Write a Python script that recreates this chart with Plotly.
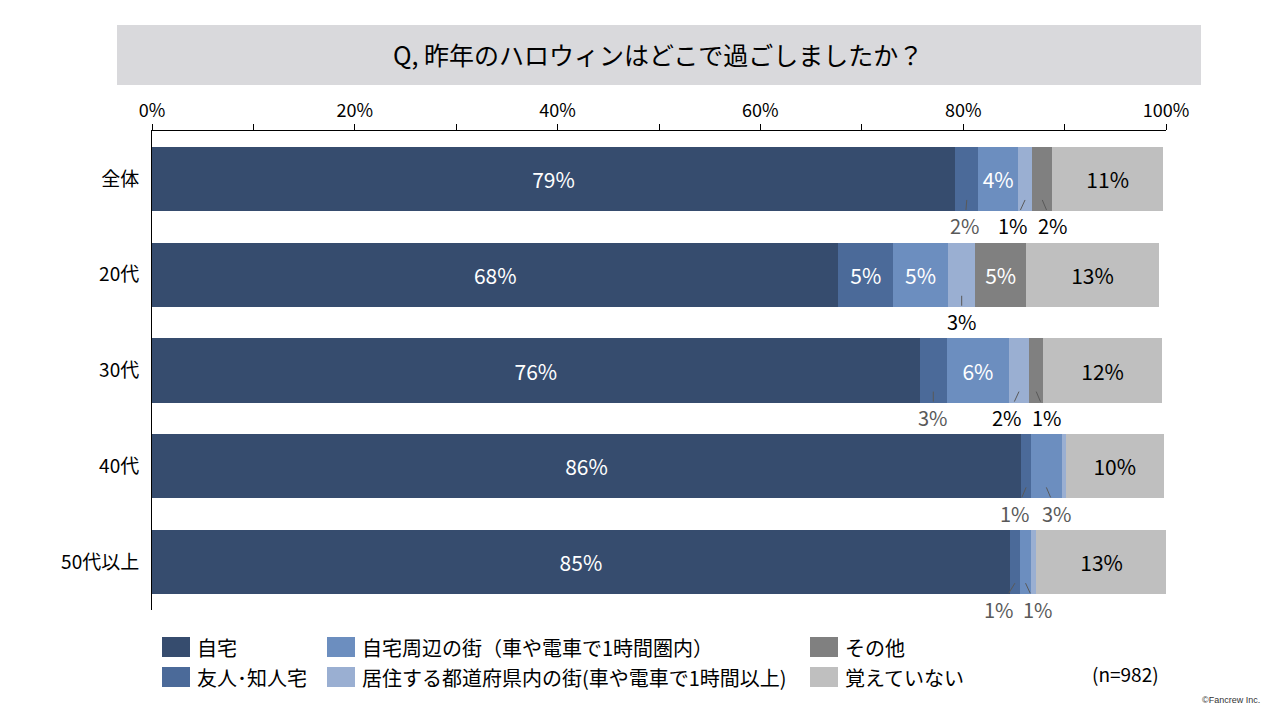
import plotly.graph_objects as go

# ---------------- data ----------------
categories = ["全体", "20代", "30代", "40代", "50代以上"]
series_names = [
    "自宅",
    "友人･知人宅",
    "自宅周辺の街（車や電車で1時間圏内）",
    "居住する都道府県内の街(車や電車で1時間以上)",
    "その他",
    "覚えていない",
]
home = [79.2, 67.7, 75.7, 85.7, 84.6]
friends = [2.3, 5.4, 2.7, 1.0, 1.0]
near_town = [3.9, 5.4, 6.1, 3.0, 1.1]
pref_town = [1.4, 2.7, 2.0, 0.4, 0.5]
other = [2.0, 5.0, 1.4, 0.0, 0.0]
dont_remember = [10.9, 13.1, 11.7, 9.7, 12.9]
series_values = [home, friends, near_town, pref_town, other, dont_remember]
x_ticks = [0, 20, 40, 60, 80, 100]

# ---------------- styles ----------------
colors = ["#364C6E", "#4B6A99", "#6C8EBF", "#9AAFD2", "#808080", "#BFBFBF"]
inside_text_colors = ["white", "white", "white", "white", "white", "black"]
outside_text_colors = ["black", "#595959", "#595959", "black", "black", "black"]
# pixel x-offsets of the small outside labels: (category index, series index) -> ax
outside_offsets = {
    (0, 1): -2, (0, 3): -12, (0, 4): 11,
    (1, 3): 0,
    (2, 1): 0, (2, 3): -12, (2, 4): 11,
    (3, 1): -11, (3, 2): 11,
    (4, 1): -16, (4, 2): 12,
}
FONT = "Noto Sans CJK JP"
INSIDE_MIN = 3.5
LABEL_MIN = 0.95
BAR_W = 0.67

# page is offset by the 8px body margin; figure coordinates = page - 8
OFF = 8
W, H = 1280 - 2 * OFF, 720 - 2 * OFF
L, T = 152 - OFF, 131 - OFF
R = (1280 - OFF) - 1166
B = (720 - OFF) - 610
PW, PH = W - L - R, H - T - B


def px(x):
    return (x - OFF - L) / PW


def py(y):
    return (H - B - (y - OFF)) / PH


fig = go.Figure()
for si, (name, vals) in enumerate(zip(series_names, series_values)):
    texts = [f"{v:.0f}%" if v >= INSIDE_MIN else "" for v in vals]
    fig.add_trace(go.Bar(
        name=name, y=categories, x=vals, orientation="h",
        marker=dict(color=colors[si], line=dict(width=0)),
        width=BAR_W,
        text=texts, textposition="inside", insidetextanchor="middle",
        textangle=0,
        textfont=dict(family=FONT, size=21, color=inside_text_colors[si]),
        hoverinfo="skip", showlegend=False,
    ))

# outside labels with leader lines
annotations = []
for ci in range(len(categories)):
    cum = 0.0
    for si, vals in enumerate(series_values):
        v = vals[ci]
        center = cum + v / 2
        cum += v
        if LABEL_MIN <= v < INSIDE_MIN:
            annotations.append(dict(
                x=center, y=ci + 0.22, xref="x", yref="y",
                text=f"{v:.0f}%", showarrow=True, arrowhead=0,
                arrowwidth=1, arrowcolor="#595959", standoff=0,
                ax=outside_offsets.get((ci, si), 0), ay=26,
                font=dict(family=FONT, size=20, color=outside_text_colors[si]),
            ))

shapes = []
# title box
shapes.append(dict(type="rect", xref="paper", yref="paper",
                   x0=px(117), x1=px(1201), y0=py(85), y1=py(25),
                   fillcolor="#D9D9DC", line=dict(width=0), layer="below"))
annotations.append(dict(xref="paper", yref="paper", x=px(658), y=py(54),
                        text="Q, 昨年のハロウィンはどこで過ごしましたか？",
                        showarrow=False, xanchor="center", yanchor="middle",
                        font=dict(family=FONT, size=25, color="black")))

# legend (3 columns x 2 rows)
legend_cols = [162, 327, 810]
legend_rows = [647, 677]
for si, name in enumerate(series_names):
    col = si // 2
    row = si % 2
    x0 = legend_cols[col]
    yc = legend_rows[row]
    shapes.append(dict(type="rect", xref="paper", yref="paper",
                       x0=px(x0), x1=px(x0 + 28), y0=py(yc + 10), y1=py(yc - 10),
                       fillcolor=colors[si], line=dict(width=0)))
    annotations.append(dict(xref="paper", yref="paper", x=px(x0 + 33), y=py(yc),
                            text=name, showarrow=False, xanchor="left",
                            yanchor="middle",
                            font=dict(family=FONT, size=20, color="black")))

annotations.append(dict(xref="paper", yref="paper", x=px(1125), y=py(673),
                        text="(n=982)", showarrow=False, xanchor="center",
                        yanchor="middle",
                        font=dict(family=FONT, size=19, color="black")))
annotations.append(dict(xref="paper", yref="paper", x=px(1262), y=py(700),
                        text="©Fancrew Inc.", showarrow=False, xanchor="right",
                        yanchor="middle",
                        font=dict(family="Liberation Sans", size=9, color="#333333")))

fig.update_layout(
    barmode="stack",
    width=W, height=H,
    margin=dict(l=L, r=R, t=T, b=B, autoexpand=False),
    paper_bgcolor="white", plot_bgcolor="white",
    font=dict(family=FONT, color="black"),
    uniformtext=dict(minsize=21, mode="show"),
    shapes=shapes, annotations=annotations,
    xaxis=dict(
        side="top", range=[0, 100], tickvals=x_ticks,
        ticktext=[f"{t}%" for t in x_ticks],
        ticks="outside", ticklen=6, tickcolor="black", tickwidth=1,
        minor=dict(dtick=10, ticks="outside", ticklen=6, tickcolor="black", tickwidth=1),
        showline=True, linecolor="black", linewidth=1,
        showgrid=False, zeroline=False,
        tickfont=dict(family=FONT, size=18, color="black"),
        fixedrange=True,
    ),
    yaxis=dict(
        autorange="reversed", showline=True, linecolor="black", linewidth=1,
        showgrid=False, ticks="", ticklabelstandoff=8,
        tickfont=dict(family=FONT, size=19, color="black"),
        fixedrange=True,
    ),
)

fig.write_html("out.html")
